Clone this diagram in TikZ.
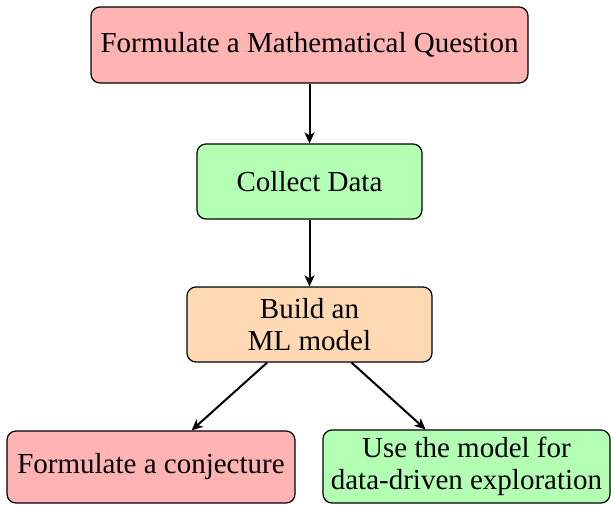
\documentclass[tikz,border=0pt]{standalone}
\usepackage{fontspec}
\setmainfont{Liberation Serif}
\usetikzlibrary{arrows.meta}
\definecolor{boxred}{RGB}{255,179,179}
\definecolor{boxgreen}{RGB}{179,255,179}
\definecolor{boxorange}{RGB}{255,217,179}
\tikzset{
  box/.style={draw=black, line width=1.2pt, rounded corners=9pt, align=center,
    inner sep=0pt, font=\fontsize{29}{32.5}\selectfont},
  flow/.style={line width=2pt, -{Stealth[length=11pt,width=10pt,inset=3pt]}}
}
\begin{document}
\begin{tikzpicture}[x=1pt,y=-1pt]
\useasboundingbox (0,0) rectangle (611,504);
\node[box, fill=boxred, minimum width=437pt, minimum height=76pt] (q) at (309.5,45) {Formulate a Mathematical Question};
\node[box, fill=boxgreen, minimum width=225pt, minimum height=75pt] (d) at (309.5,181.5) {Collect Data};
\node[box, fill=boxorange, minimum width=245pt, minimum height=75pt] (m) at (309.5,324.5) {Build an\\ML model};
\node[box, fill=boxred, minimum width=288pt, minimum height=72pt] (c) at (151,467) {Formulate a conjecture};
\node[box, fill=boxgreen, minimum width=287pt, minimum height=73pt] (e) at (466.5,466.5) {Use the model for\\data-driven exploration};
\draw[flow] (q) -- (d);
\draw[flow] (d) -- (m);
\draw[flow] (m) -- (c);
\draw[flow] (m) -- (e);
\end{tikzpicture}
\end{document}
